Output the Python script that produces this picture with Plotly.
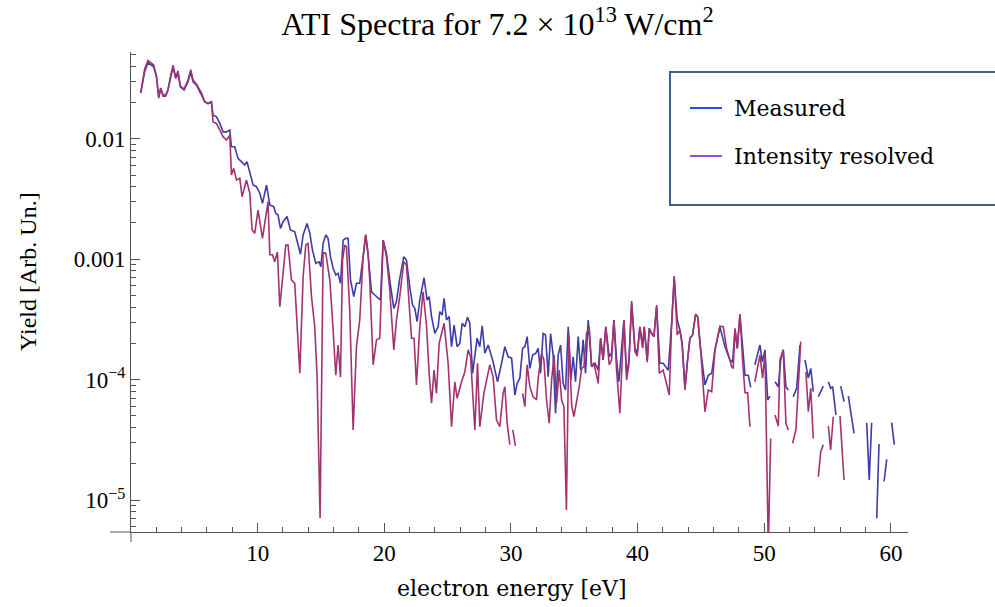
import plotly.graph_objects as go

# ---------------- data ----------------
measured_energy = [
    0.77, 1.08, 1.34, 1.61, 1.79, 2.01, 2.19, 2.35, 2.53, 2.74,
    2.92, 3.11, 3.32, 3.53, 3.71, 3.90, 4.19, 4.50, 4.72, 4.90,
    5.17, 5.56, 5.82, 6.08, 6.35, 6.48, 6.75, 7.01, 7.27, 7.54,
    7.80, 7.93, 8.19, 8.45, 8.72, 8.98, 9.16, 9.43, 9.64, 9.91,
    10.17, 10.38, 10.70, 10.96, 11.27, 11.43, 11.61, 11.80, 12.01, 12.32,
    12.59, 12.93, 13.11, 13.38, 13.59, 13.90, 14.12, 14.33, 14.59, 14.85,
    14.99, 15.17, 15.38, 15.56, 15.75, 15.96, 16.17, 16.35, 16.54, 16.75,
    16.96, 17.14, 17.33, 17.59, 17.80, 18.06, 18.33, 18.54, 18.72, 18.99,
    19.25, 19.51, 19.70, 19.91, 20.17, 20.43, 20.75, 20.96, 21.22, 21.54,
    21.75, 22.01, 22.23, 22.41, 22.59, 22.80, 23.02, 23.14, 23.38, 23.54,
    23.73, 23.99, 24.25, 24.38, 24.57, 24.72, 24.91, 25.12, 25.31, 25.51,
    25.75, 25.96, 26.15, 26.36, 26.57, 26.75, 26.97, 27.15, 27.33, 27.54,
    27.73, 27.94, 28.20, 28.55, 28.94, 29.26, 29.52, 29.78, 30.05, 30.31,
    30.49, 30.70, 30.92, 31.10, 31.28, 31.49, 31.71, 31.97, 32.15, 32.34,
    32.54, 32.73, 32.94, 33.13, 33.33, 33.52, 33.73, 33.92, 34.12, 34.31,
    34.52, 34.73, 34.91, 35.10, 35.31, 35.50, 35.70, 35.89, 36.10, 36.37,
    36.63, 36.89, 37.08, 37.28, 37.49, 37.76, 37.95, 38.13, 38.34, 38.52,
    38.92, 39.13, 39.31, 39.53, 39.79, 39.97, 40.18, 40.40, 40.52, 40.76,
    40.92, 41.11, 41.29, 41.50, 41.76, 42.02, 42.42, 42.69, 42.89, 43.13,
    43.34, 43.52, 43.74, 43.92, 44.13, 44.34, 44.58, 44.74, 44.98, 45.32,
    45.58, 45.85, 46.11, 46.50, 46.90, 47.29, 47.50, 47.69, 47.87, 48.08,
    48.34, 48.48, 48.74, 48.93, 49.10, 49.26, 49.66, 49.84, 50.06, 50.27,
    50.45, 50.65, 50.85, 51.11, 51.30, 51.50, 51.71, 51.90, 52.10, 52.29,
    52.56, 52.82, 53.02, 53.22, 53.48, 53.67, 53.87, 54.07, 54.27, 54.66,
    54.86, 55.06, 55.24, 55.40, 55.66, 55.85, 56.04, 56.30, 56.47, 56.64,
    57.09, 57.60, 58.09, 58.29, 58.48, 58.68, 58.88, 59.06, 59.26, 59.46,
    59.67, 59.86, 60.06, 60.27,
]
measured_yield = [
    2.39e-2, 3.60e-2, 4.27e-2, 4.09e-2, 3.96e-2, 3.26e-2, 2.23e-2, 2.62e-2, 2.31e-2, 2.31e-2,
    2.54e-2, 3.17e-2, 3.91e-2, 3.17e-2, 3.49e-2, 2.70e-2, 2.54e-2, 2.97e-2, 3.60e-2, 2.97e-2,
    2.79e-2, 2.31e-2, 2.03e-2, 1.96e-2, 2.03e-2, 1.57e-2, 1.52e-2, 1.34e-2, 1.14e-2, 1.14e-2,
    1.18e-2, 8.58e-3, 8.58e-3, 6.87e-3, 6.44e-3, 6.05e-3, 6.44e-3, 5.16e-3, 4.13e-3, 4.00e-3,
    3.53e-3, 2.91e-3, 4.13e-3, 2.82e-3, 2.73e-3, 2.40e-3, 2.33e-3, 1.80e-3, 2.05e-3, 2.26e-3,
    1.75e-3, 1.69e-3, 1.44e-3, 1.10e-3, 1.59e-3, 1.98e-3, 1.64e-3, 1.19e-3, 9.25e-4, 9.53e-4,
    8.67e-4, 1.36e-3, 1.59e-3, 1.49e-3, 1.05e-3, 8.40e-4, 7.39e-4, 7.64e-4, 6.31e-4, 1.44e-3,
    1.49e-3, 1.49e-3, 6.72e-4, 4.89e-4, 6.31e-4, 6.31e-4, 1.05e-3, 1.59e-3, 1.09e-3, 5.37e-4,
    5.05e-4, 4.74e-4, 4.58e-4, 1.44e-3, 1.12e-3, 6.72e-4, 3.91e-4, 4.44e-4, 6.94e-4, 1.05e-3,
    9.85e-4, 5.91e-4, 4.17e-4, 3.91e-4, 3.03e-4, 4.58e-4, 6.31e-4, 7.02e-4, 4.58e-4, 4.89e-4,
    3.34e-4, 2.42e-4, 2.75e-4, 3.67e-4, 3.45e-4, 4.74e-4, 3.13e-4, 3.34e-4, 1.88e-4, 2.84e-4,
    1.88e-4, 2.00e-4, 2.94e-4, 2.75e-4, 3.30e-4, 2.94e-4, 1.13e-4, 1.66e-4, 2.21e-4, 1.88e-4,
    2.80e-4, 1.66e-4, 1.94e-4, 1.46e-4, 9.62e-5, 1.37e-4, 1.88e-4, 1.55e-4, 1.51e-4, 7.46e-5,
    9.33e-5, 1.03e-4, 1.82e-4, 1.88e-4, 2.28e-4, 1.24e-4, 1.60e-4, 1.66e-4, 1.82e-4, 1.13e-4,
    2.42e-4, 2.35e-4, 1.06e-4, 2.42e-4, 1.60e-4, 5.26e-5, 1.60e-4, 1.94e-4, 9.33e-5, 8.22e-5,
    2.75e-4, 9.94e-5, 1.55e-4, 9.62e-5, 2.28e-4, 1.20e-4, 2.14e-4, 1.13e-4, 3.13e-4, 1.28e-4,
    1.37e-4, 1.20e-4, 2.21e-4, 1.46e-4, 2.75e-4, 1.55e-4, 1.66e-4, 3.13e-4, 1.46e-4, 9.62e-5,
    3.13e-4, 1.13e-4, 1.41e-4, 4.31e-4, 1.82e-4, 1.66e-4, 2.75e-4, 1.88e-4, 2.75e-4, 1.46e-4,
    2.67e-4, 2.42e-4, 2.28e-4, 4.03e-4, 1.37e-4, 1.37e-4, 1.20e-4, 2.94e-4, 6.94e-4, 3.13e-4,
    2.59e-4, 2.00e-4, 8.48e-5, 1.37e-4, 2.21e-4, 2.35e-4, 3.45e-4, 3.34e-4, 1.77e-4, 9.04e-5,
    1.09e-4, 1.13e-4, 1.77e-4, 2.74e-4, 1.88e-4, 1.46e-4, 1.40e-4, 2.59e-4, 1.82e-4, 3.45e-4,
    1.77e-4, 1.09e-4, 1.09e-4, 8.65e-5, None, 1.33e-4, 1.94e-4, 1.41e-4, 1.77e-4, 6.78e-5,
    7.32e-5, None, 9.62e-5, 8.75e-5, 1.46e-4, 1.77e-4, 8.75e-5, 8.22e-5, None, 7.22e-5,
    8.48e-5, 1.94e-4, None, 1.46e-4, 1.03e-4, 1.24e-4, 7.95e-5, None, 7.22e-5, 8.86e-5,
    None, 9.62e-5, 8.48e-5, 8.75e-5, 5.10e-5, None, 8.86e-5, 6.57e-5, None, 7.32e-5,
    3.59e-5, None, 4.40e-5, 1.47e-5, 4.40e-5, None, 7.08e-6, 2.93e-5, None, 1.43e-5,
    2.18e-5, None, 4.40e-5, 2.89e-5,
]

resolved_energy = [
    0.77, 1.08, 1.34, 1.61, 1.79, 2.01, 2.19, 2.35, 2.53, 2.74,
    2.92, 3.11, 3.32, 3.53, 3.71, 3.90, 4.19, 4.50, 4.72, 4.90,
    5.17, 5.56, 5.82, 6.08, 6.35, 6.48, 6.75, 7.01, 7.27, 7.54,
    7.80, 7.93, 8.11, 8.33, 8.59, 8.77, 9.12, 9.38, 9.56, 9.77,
    10.03, 10.38, 10.82, 10.96, 11.17, 11.35, 11.56, 11.75, 12.22, 12.40,
    12.67, 12.93, 13.33, 13.59, 13.80, 13.98, 14.25, 14.51, 14.69, 14.93,
    15.17, 15.38, 15.70, 15.91, 16.17, 16.35, 16.54, 16.70, 16.88, 17.01,
    17.27, 17.54, 17.80, 18.06, 18.33, 18.52, 18.72, 18.85, 19.12, 19.38,
    19.64, 19.91, 20.17, 20.43, 20.75, 20.96, 21.22, 21.54, 21.75, 22.15,
    22.35, 22.54, 22.80, 23.06, 23.33, 23.54, 23.73, 23.93, 24.12, 24.33,
    24.72, 25.04, 25.31, 25.57, 25.75, 26.10, 26.36, 26.62, 26.81, 27.15,
    27.36, 27.54, 27.86, 28.33, 28.59, 28.86, 29.12, 29.38, 29.52, 29.70,
    29.91, 30.03, 30.15, 30.35, 30.60, 30.92, 31.10, 31.28, 31.49, 31.75,
    32.02, 32.15, 32.42, 32.60, 32.81, 33.02, 33.21, 33.41, 33.60, 33.81,
    34.00, 34.18, 34.38, 34.57, 34.79, 34.97, 35.18, 35.39, 35.58, 35.76,
    35.97, 36.18, 36.37, 36.55, 36.89, 37.08, 37.28, 37.49, 37.76, 37.95,
    38.13, 38.34, 38.60, 38.92, 39.13, 39.31, 39.53, 39.79, 39.97, 40.18,
    40.40, 40.52, 40.76, 40.92, 41.11, 41.29, 41.50, 41.71, 42.02, 42.50,
    42.69, 42.89, 43.13, 43.34, 43.52, 43.74, 43.92, 44.13, 44.34, 44.58,
    44.74, 44.98, 45.32, 45.58, 45.85, 46.11, 46.50, 46.76, 47.03, 47.43,
    47.55, 47.69, 47.87, 48.08, 48.29, 48.48, 48.69, 48.87, 49.06, 49.26,
    49.66, 49.87, 50.06, 50.32, 50.51, 50.68, 50.85, 51.11, 51.24, 51.50,
    51.71, 51.90, 52.07, 52.24, 52.50, 52.88, 53.08, 53.29, 53.48, 53.67,
    53.87, 54.07, 54.27, 54.46, 54.66, 54.86, 55.06, 55.24, 55.45, 55.72,
    55.98, 56.30,
]
resolved_yield = [
    2.44e-2, 3.80e-2, 4.46e-2, 4.25e-2, 4.09e-2, 3.31e-2, 2.17e-2, 2.64e-2, 2.26e-2, 2.26e-2,
    2.54e-2, 3.25e-2, 4.09e-2, 3.25e-2, 3.65e-2, 2.74e-2, 2.59e-2, 3.07e-2, 3.75e-2, 3.07e-2,
    2.84e-2, 2.40e-2, 2.03e-2, 1.96e-2, 2.03e-2, 1.38e-2, 1.34e-2, 1.18e-2, 1.04e-2, 9.75e-3,
    1.07e-2, 5.00e-3, 5.68e-3, 4.54e-3, 4.72e-3, 3.30e-3, 4.54e-3, 3.53e-3, 1.75e-3, 1.64e-3,
    2.56e-3, 1.49e-3, 3.00e-3, 1.09e-3, 1.09e-3, 9.53e-4, 1.15e-3, 4.03e-4, 1.31e-3, 1.31e-3,
    6.72e-4, 6.31e-4, 1.13e-4, 7.16e-4, 1.31e-3, 1.36e-3, 4.89e-4, 2.75e-4, 1.09e-4, 7.12e-6,
    1.14e-3, 1.12e-3, 6.72e-4, 3.13e-4, 1.09e-4, 1.94e-4, 1.05e-4, 9.85e-4, 1.31e-3, 1.27e-3,
    3.80e-4, 3.83e-5, 1.88e-4, 3.13e-4, 1.05e-3, 1.59e-3, 1.12e-3, 6.72e-4, 1.33e-4, 2.14e-4,
    2.21e-4, 1.44e-3, 1.05e-3, 5.55e-4, 1.77e-4, 3.13e-4, 4.89e-4, 9.53e-4, 8.95e-4, 2.21e-4,
    2.21e-4, 9.04e-5, 2.75e-4, 5.37e-4, 2.84e-4, 1.13e-4, 6.37e-5, 1.20e-4, 7.71e-5, 2.00e-4,
    2.94e-4, 1.37e-4, 4.07e-5, 9.62e-5, 7.01e-5, 9.62e-5, 1.16e-4, 1.77e-4, 1.55e-4, 3.83e-5,
    1.37e-4, 4.07e-5, 7.71e-5, 1.33e-4, 1.06e-4, 4.63e-5, 4.07e-5, 7.71e-5, 8.75e-5, 4.35e-5,
    2.89e-5, None, 3.83e-5, 2.82e-5, None, 7.71e-5, 5.97e-5, 1.33e-4, 8.75e-5, 7.22e-5,
    6.78e-5, 1.03e-4, 1.66e-4, 1.46e-4, 6.78e-5, 4.35e-5, 9.94e-5, 1.60e-4, 6.37e-5, 1.20e-4,
    6.78e-5, 5.97e-5, 8.29e-6, 2.35e-4, 6.17e-5, 4.93e-5, 6.37e-5, 8.75e-5, 1.24e-4, 1.28e-4,
    2.42e-4, 2.75e-4, 1.28e-4, 1.37e-4, 9.33e-5, 2.21e-4, 1.46e-4, 2.75e-4, 1.33e-4, 1.46e-4,
    3.13e-4, 1.20e-4, 5.26e-5, 3.13e-4, 9.94e-5, 1.33e-4, 4.49e-4, 1.71e-4, 1.57e-4, 2.75e-4,
    1.83e-4, 2.75e-4, 1.40e-4, 2.67e-4, 2.42e-4, 2.28e-4, 4.17e-4, 1.13e-4, 1.20e-4, 7.46e-5,
    2.94e-4, 7.26e-4, 2.35e-4, 2.59e-4, 1.94e-4, 8.22e-5, 1.37e-4, 2.21e-4, 2.35e-4, 3.51e-4,
    3.34e-4, 1.77e-4, 5.42e-5, 8.22e-5, 7.95e-5, 1.77e-4, 2.78e-4, 2.75e-4, 1.82e-4, 1.28e-4,
    1.24e-4, 2.67e-4, 1.82e-4, 3.51e-4, 1.46e-4, 7.80e-5, 7.80e-5, 4.07e-5, None, 9.62e-5,
    1.60e-4, 1.03e-4, 1.66e-4, 4.0e-6, 3.26e-5, None, 5.10e-5, 4.12e-5, 1.46e-4, 1.77e-4,
    4.35e-5, 3.83e-5, None, 2.97e-5, 3.83e-5, 2.07e-4, None, 1.16e-4, 5.42e-5, 8.48e-5,
    3.26e-5, None, 1.57e-5, 2.53e-5, 2.89e-5, None, 4.12e-5, 2.61e-5, 4.93e-5, None,
    5.0e-5, 1.47e-5,
]

x_tick_values = [10, 20, 30, 40, 50, 60]
y_tick_values = [1e-5, 1e-4, 1e-3, 1e-2]
y_tick_labels = ["10<sup>\u22125</sup>", "10<sup>\u22124</sup>", "0.001", "0.01"]
series_names = ["Measured", "Intensity resolved"]

# ---------------- styling ----------------
W, H = 995, 607
ML, MR, MT, MB = 131, 87, 52, 75
plot_w = W - ML - MR
plot_h = H - MT - MB

def px_x(p):  # pixel -> paper x
    return (p - ML) / plot_w

def px_y(p):  # pixel -> paper y
    return (H - MB - p) / plot_h

COL_MEAS = "#3c3ca6"
COL_RES = "#a3336f"
LEG_MEAS = "#1f4fe8"
LEG_RES = "#9150d2"
AXIS_COL = "#555555"
SERIF = "Liberation Serif, Times New Roman, serif"
SERIF2 = "DejaVu Serif, serif"

fig = go.Figure()
fig.add_trace(go.Scatter(x=measured_energy, y=measured_yield, mode="lines",
                         name=series_names[0], line=dict(color=COL_MEAS, width=1.6),
                         connectgaps=False, showlegend=False))
fig.add_trace(go.Scatter(x=resolved_energy, y=resolved_yield, mode="lines",
                         name=series_names[1], line=dict(color=COL_RES, width=1.6),
                         connectgaps=False, showlegend=False))

fig.update_layout(
    width=W, height=H,
    margin=dict(l=ML, r=MR, t=MT, b=MB, pad=0),
    paper_bgcolor="white", plot_bgcolor="white",
    title=dict(text="ATI Spectra for 7.2 \u00d7 10<sup>13</sup> W/cm<sup>2</sup>",
               x=0.5, xref="container", xanchor="center",
               y=1 - 24 / H, yref="container", yanchor="middle",
               font=dict(family=SERIF, size=32, color="black")),
    xaxis=dict(range=[0, 61.35], showgrid=False, zeroline=False,
               showline=True, linecolor=AXIS_COL, linewidth=1,
               tickmode="array", tickvals=x_tick_values,
               ticks="inside", ticklen=9, tickcolor=AXIS_COL, tickwidth=1,
               tickfont=dict(family=SERIF, size=23, color="black"),
               minor=dict(ticks="inside", ticklen=5, tickcolor=AXIS_COL,
                          dtick=2, tick0=0, showgrid=False)),
    yaxis=dict(type="log", range=[-5.264, -1.28], showgrid=False, zeroline=False,
               showline=True, linecolor=AXIS_COL, linewidth=1,
               tickmode="array", tickvals=y_tick_values, ticktext=y_tick_labels,
               ticks="inside", ticklen=9, tickcolor=AXIS_COL, tickwidth=1,
               tickfont=dict(family=SERIF, size=23, color="black"),
               minor=dict(ticks="inside", ticklen=5, tickcolor=AXIS_COL,
                          dtick="D1", showgrid=False)),
)

# axis overhangs (Mathematica-style crossing axes)
fig.add_shape(type="line", xref="paper", yref="paper",
              x0=0, x1=0, y0=0, y1=px_y(H - MB + 10),
              line=dict(color=AXIS_COL, width=1))
fig.add_shape(type="line", xref="paper", yref="paper",
              x0=px_x(ML - 21), x1=0, y0=0, y1=0,
              line=dict(color=AXIS_COL, width=1))

# axis titles
fig.add_annotation(text="electron energy [eV]", xref="paper", yref="paper",
                   x=px_x(511.5), y=px_y(588), xanchor="center", yanchor="middle",
                   showarrow=False, font=dict(family=SERIF2, size=22, color="black"))
fig.add_annotation(text="Yield [Arb. Un.]", xref="paper", yref="paper",
                   x=px_x(28), y=px_y(272), xanchor="center", yanchor="middle",
                   textangle=-90, showarrow=False,
                   font=dict(family=SERIF, size=24, color="black"))

# legend box (drawn as in the reference)
fig.add_shape(type="rect", xref="paper", yref="paper",
              x0=px_x(670), x1=px_x(1000), y0=px_y(205), y1=px_y(72),
              line=dict(color="#3e5e90", width=2), fillcolor="white", layer="above")
for name, col, yy in [(series_names[0], LEG_MEAS, 108), (series_names[1], LEG_RES, 156)]:
    fig.add_shape(type="line", xref="paper", yref="paper",
                  x0=px_x(690), x1=px_x(722), y0=px_y(yy), y1=px_y(yy),
                  line=dict(color=col, width=2), layer="above")
    fig.add_annotation(text=name, xref="paper", yref="paper",
                       x=px_x(732), y=px_y(yy), xanchor="left", yanchor="middle",
                       showarrow=False, font=dict(family=SERIF2, size=22, color="black"))

# remove the browser's default page margin so the figure sits at the page origin
fig.write_html("out.html",
               config={"displayModeBar": False},
               post_script="document.body.style.margin='0';document.body.style.overflow='hidden';")
